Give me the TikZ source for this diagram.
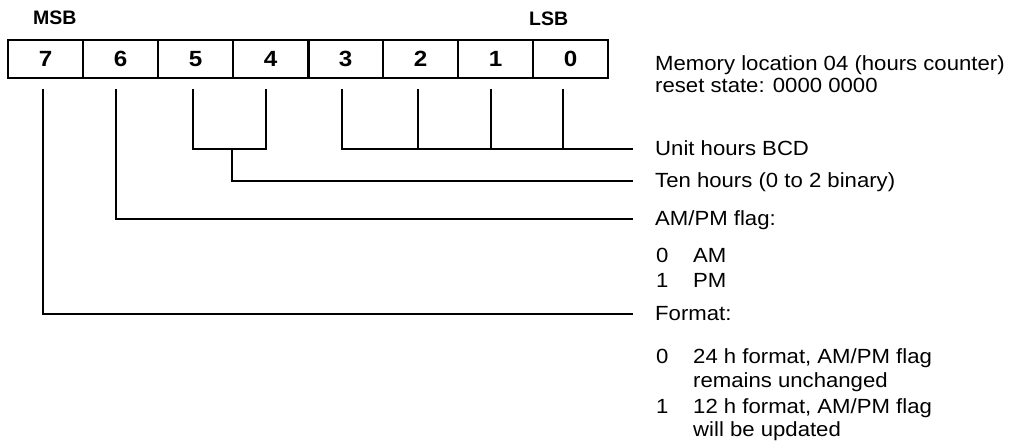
\documentclass[tikz,border=0pt]{standalone}
\usepackage{fontspec}
\setmainfont{Liberation Sans}[FakeStretch=1.08]
\newfontfamily\hdrfont{Liberation Sans}[FakeStretch=1.0]
\newfontfamily\digfont{Liberation Sans}[FakeStretch=1.1]
\begin{document}
\begin{tikzpicture}[x=1pt,y=-1pt,
  cell/.style={draw, line width=1.5pt, minimum width=75pt, minimum height=38pt, inner sep=0pt,
    font=\digfont\bfseries\fontsize{22}{24}\selectfont},
  conn/.style={line width=1.5pt},
  lbl/.style={anchor=base west, inner sep=0pt, font=\fontsize{20.5}{23}\selectfont},
  hdr/.style={anchor=base west, inner sep=0pt, font=\hdrfont\bfseries\fontsize{19.5}{22}\selectfont}]
\useasboundingbox (0,0) rectangle (1014,443);
% register cells
\foreach \b [count=\i from 0] in {7,6,5,4,3,2,1,0}
  \node[cell] (b\b) at (45.5+75*\i,59) {\b};
\draw[line width=3pt] (b4.north east) -- (b4.south east);
\node[hdr] (msb) at (33,25) {MSB};
\node[hdr] (lsb) at (529,26) {LSB};
% tap points below the cells
\coordinate (t7) at (43,89);
\coordinate (t6) at (116,89);
\coordinate (t5) at (193,89);
\coordinate (t4) at (266,89);
\coordinate (t3) at (342,89);
\coordinate (t2) at (418,89);
\coordinate (t1) at (491,89);
\coordinate (t0) at (563,89);
\coordinate (j54) at (232,149);
% line ends
\coordinate (eunit) at (633,149);
\coordinate (eten) at (633,181);
\coordinate (eampm) at (633,219);
\coordinate (efmt) at (633,314);
% labels
\node[lbl] (mem) at (655,71) {Memory location 04 (hours counter)};
\node[lbl] (reset) at (655,93) {reset state: 0000 0000};
\node[lbl] (unit) at (655,156) {Unit hours BCD};
\node[lbl] (ten) at (655,188) {Ten hours (0 to 2 binary)};
\node[lbl] (ampm) at (655,226) {AM/PM flag:};
\node[lbl] (a0) at (656,263) {0};
\node[lbl] (am) at (693,263) {AM};
\node[lbl] (a1) at (656,288) {1};
\node[lbl] (pm) at (693,288) {PM};
\node[lbl] (fmt) at (655,321) {Format:};
\node[lbl] (f0) at (656,363) {0};
\node[lbl] (f0a) at (693,363) {24 h format, AM/PM flag};
\node[lbl] (f0b) at (693,387) {remains unchanged};
\node[lbl] (f1) at (656,413) {1};
\node[lbl] (f1a) at (693,413) {12 h format, AM/PM flag};
\node[lbl] (f1b) at (693,436) {will be updated};
% connectors
\draw[conn] (t3) |- (eunit);
\draw[conn] (t2) -- (t2 |- eunit);
\draw[conn] (t1) -- (t1 |- eunit);
\draw[conn] (t0) -- (t0 |- eunit);
\draw[conn] (t5) |- (j54) -| (t4);
\draw[conn] (j54) |- (eten);
\draw[conn] (t6) |- (eampm);
\draw[conn] (t7) |- (efmt);
\end{tikzpicture}
\end{document}
